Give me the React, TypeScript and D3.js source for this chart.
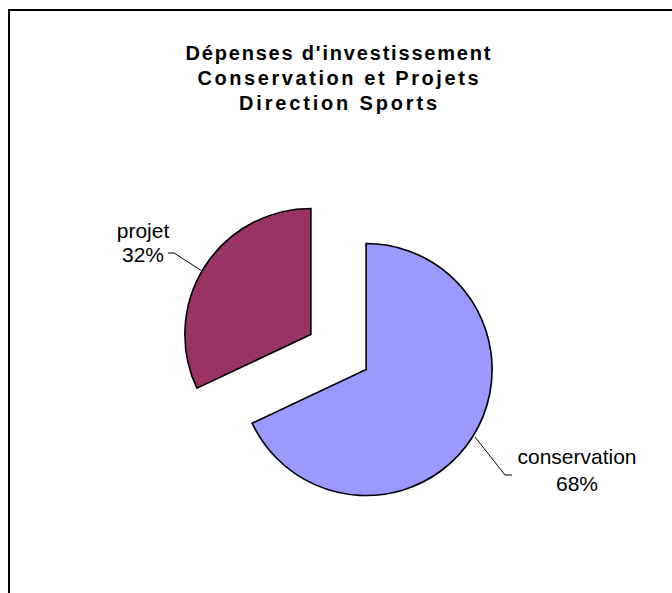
import React from "react";
import * as d3 from "d3";

const categories = ["conservation", "projet"];
const values = [68, 32];
const percentLabels = ["68%", "32%"];
const colors = ["#9999FF", "#993366"];
const titleLines = ["Dépenses d'investissement", "Conservation et Projets", "Direction Sports"];

export default function App() {
  const W = 672, H = 593;
  const cx = 338.5, cy = 352, r = 126, explode = 32.7;
  const pie = d3.pie<number>().sort(null).startAngle(0).endAngle(2 * Math.PI);
  const arcs = pie(values);
  const arcGen = d3.arc<d3.PieArcDatum<number>>().innerRadius(0).outerRadius(r);

  const titleY = [60, 85, 110];
  const titleW = [305, 281, 198];

  const labelPos = [
    { x: 577, y1: 464, y2: 491, line: [[475, 437], [505, 475], [512, 475]] },
    { x: 143, y1: 238, y2: 262, line: [[202, 271], [174, 253], [168, 253]] },
  ];

  return (
    <svg width={W} height={H} style={{ position: "absolute", left: 0, top: 0 }} fontFamily="'Liberation Sans', Arial, sans-serif">
      <rect x={0} y={0} width={W} height={H} fill="#fff" />
      <rect x={9} y={10} width={700} height={650} fill="none" stroke="#000" strokeWidth={2} />
      {titleLines.map((t, i) => (
        <text key={i} x={338} y={titleY[i]} textAnchor="middle" fontWeight="bold" fontSize={20}
          textLength={titleW[i]} lengthAdjust="spacing" fill="#000">{t}</text>
      ))}
      {arcs.map((a, i) => {
        const mid = (a.startAngle + a.endAngle) / 2;
        const dx = Math.sin(mid) * explode, dy = -Math.cos(mid) * explode;
        return (
          <path key={i} d={arcGen(a) || ""} transform={`translate(${cx + dx},${cy + dy})`}
            fill={colors[i]} stroke="#000" strokeWidth={1.6} strokeLinejoin="miter" />
        );
      })}
      {categories.map((c, i) => {
        const lp = labelPos[i];
        return (
          <g key={c}>
            <polyline points={lp.line.map(p => p.join(",")).join(" ")} fill="none" stroke="#000" strokeWidth={1} />
            <text x={lp.x} y={lp.y1} textAnchor="middle" fontSize={21} fill="#000">{c}</text>
            <text x={lp.x} y={lp.y2} textAnchor="middle" fontSize={21} fill="#000">{percentLabels[i]}</text>
          </g>
        );
      })}
    </svg>
  );
}
